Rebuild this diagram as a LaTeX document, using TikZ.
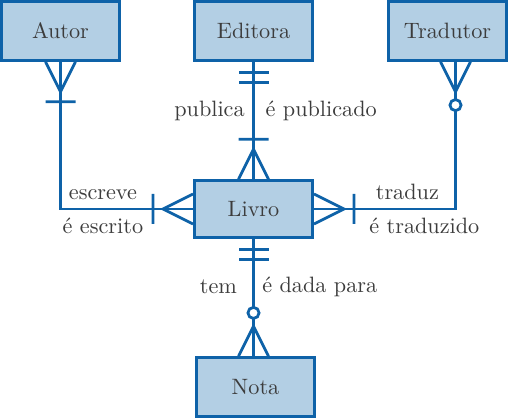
\documentclass[tikz,border=0pt]{standalone}
\usetikzlibrary{decorations.markings}

\definecolor{erBlue}{RGB}{14,98,168}
\definecolor{erFill}{RGB}{179,207,228}
\definecolor{erText}{RGB}{60,60,60}

\begin{document}
\begin{tikzpicture}[
        x=0.45pt, y=-0.45pt,
        entityNode/.style={rectangle, draw=erBlue, fill=erFill, line width=1.4pt, text=erText, minimum width=53pt, minimum height=26.3pt, inner sep=0pt},
        relLine/.style={draw=erBlue, line width=1.25pt},
        relTip/.style={draw=erBlue, line width=1.25pt},
        relLabel/.style={text=erText},
        startOneMany/.style={postaction={decorate, decoration={markings, mark=at position 0 with {
            \draw[relTip] (0pt,6.75pt) -- (13.5pt,0pt) -- (0pt,-6.75pt) (18pt,6.75pt) -- (18pt,-6.75pt);}}}},
        endOneMany/.style={postaction={decorate, decoration={markings, mark=at position 1 with {
            \draw[relTip] (0pt,6.75pt) -- (-13.5pt,0pt) -- (0pt,-6.75pt) (-18pt,6.75pt) -- (-18pt,-6.75pt);}}}},
        startOnlyOne/.style={postaction={decorate, decoration={markings, mark=at position 0 with {
            \draw[relTip] (4.95pt,6.75pt) -- (4.95pt,-6.75pt) (9.45pt,6.75pt) -- (9.45pt,-6.75pt);}}}},
        endZeroMany/.style={postaction={decorate, decoration={markings, mark=at position 1 with {
            \draw[relTip] (0pt,6.75pt) -- (-13.5pt,0pt) -- (0pt,-6.75pt);
            \draw[relTip, fill=white] (-19.5pt,0pt) circle (2.5pt);}}}}
    ]
        \useasboundingbox (0,0) rectangle (508,419);

        % Entities
        \node[entityNode] (autor) at (60.5,31) {Autor};
        \node[entityNode] (editora) at (253.5,31) {Editora};
        \node[entityNode] (tradutor) at (447.5,31) {Tradutor};
        \node[entityNode, minimum height=25.3pt] (livro) at (253.5,209) {Livro};
        \node[entityNode] (nota) at (255.5,387) {Nota};

        \coordinate (tradutorFoot) at ([xshift=3.6pt]tradutor.south);

        % Relationships
        \draw[relLine, startOneMany, endOneMany] (autor) |- (livro)
            node[relLabel, pos=0.66, above] (escreve) {escreve}
            node[relLabel, pos=0.66, below] (escrito) {é escrito};
        \draw[relLine, startOnlyOne, endOneMany] (editora) -- (livro)
            node[relLabel, pos=0.42, left] (publica) {publica}
            node[relLabel, pos=0.42, right, xshift=1.5pt] (publicado) {é publicado};
        \draw[relLine, startOneMany, endZeroMany] (livro) -| (tradutorFoot)
            node[relLabel, pos=0.33, above] (traduz) {traduz}
            node[relLabel, pos=0.39, below] (traduzido) {é traduzido};
        \draw[relLine, startOnlyOne, endZeroMany] (livro.south) -- (livro.south |- nota.north)
            node[relLabel, pos=0.41, left, xshift=-3.5pt] (tem) {tem}
            node[relLabel, pos=0.41, right] (dada) {é dada para};
    \end{tikzpicture}
\end{document}
